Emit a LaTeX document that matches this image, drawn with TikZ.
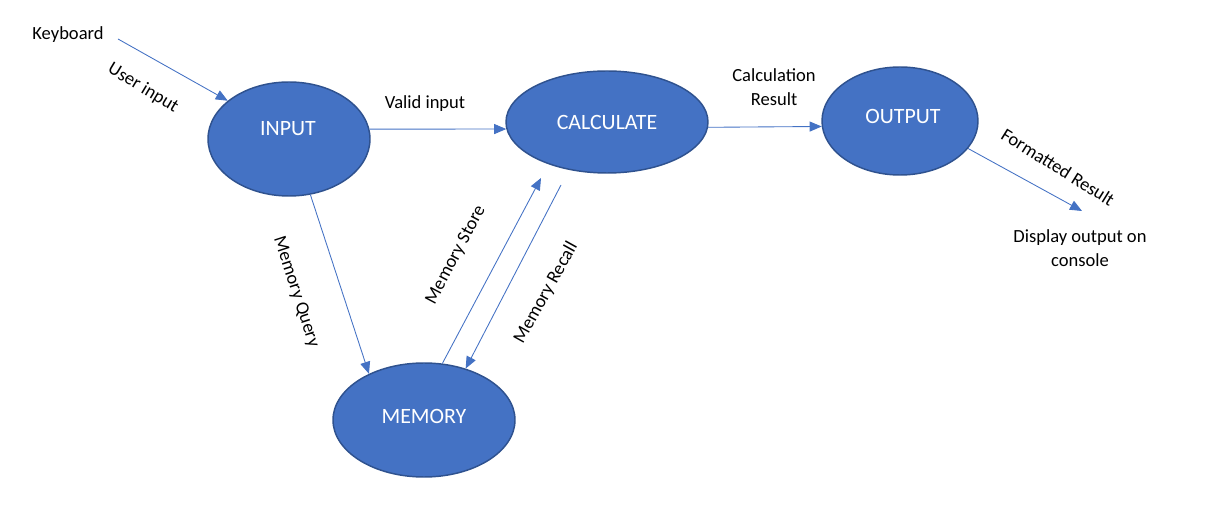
\documentclass[tikz,border=0pt]{standalone}
\usepackage{fontspec}
\setmainfont{Carlito}
\usetikzlibrary{arrows.meta,shapes.geometric}
\definecolor{fillblue}{HTML}{4472C4}
\definecolor{edgeblue}{HTML}{2F528F}
\definecolor{arrowblue}{HTML}{4472C4}
\begin{document}
\begin{tikzpicture}[x=0.75pt,y=-0.75pt,
  proc/.style={ellipse,draw=edgeblue,line width=1.1pt,fill=fillblue,text=white,font=\fontsize{16.4}{19}\selectfont,inner sep=0pt},
  ptext/.style={text=white,font=\fontsize{16.4}{19}\selectfont,inner sep=0pt},
  flow/.style={draw=arrowblue,line width=0.65pt,-{Triangle[length=9pt,width=7.5pt]}},
  lbl/.style={font=\fontsize{13.9}{17.5}\selectfont,text=black,inner sep=0pt,align=center}]
\useasboundingbox (0,0) rectangle (1221,530);
\node[proc,minimum width=121.5pt,minimum height=85.5pt] (input) at (289,139) {};
\node[ptext] (inputt) at (288,129) {INPUT};
\node[proc,minimum width=151.5pt,minimum height=76.5pt] (calc) at (607,122) {};
\node[ptext] (calct) at (607,122) {CALCULATE};
\node[proc,minimum width=117pt,minimum height=81pt] (output) at (900,121) {};
\node[ptext] (outputt) at (903,116) {OUTPUT};
\node[proc,minimum width=136.5pt,minimum height=85.5pt] (memory) at (424,420) {};
\node[ptext] (memoryt) at (424,416) {MEMORY};

\node[lbl] (kbd) at (68,35) {Keyboard};
\coordinate (kbdend) at (118,39);
\node[lbl] (display) at (1080,248) {Display output on\\console};
\coordinate (dispTop) at (1082,211);
\coordinate (storeEnd) at (541,178);
\coordinate (recallStart) at (561,185);

\draw[flow] (kbdend) -- (input.148);
\draw[flow] (input.7) -- (calc.184);
\draw[flow] (calc.-3.4) -- (output.184.5);
\draw[flow] (output.-22.5) -- (dispTop);
\draw[flow] (input.-69.8) -- (memory.140);
\draw[flow] (memory.72) -- (storeEnd);
\draw[flow] (recallStart) -- (memory.51);

\node[lbl,rotate=-31] (l1) at (143,88) {User input};
\node[lbl] (l2) at (425,104) {Valid input};
\node[lbl] (l3) at (774,87) {Calculation\\Result};
\node[lbl,rotate=-32] (l4) at (1058,167) {Formatted Result};
\node[lbl,rotate=-72] (l5) at (296,292) {Memory Query};
\node[lbl,rotate=62] (l6) at (456,255) {Memory Store};
\node[lbl,rotate=61] (l7) at (546,293) {Memory Recall};
\end{tikzpicture}
\end{document}
